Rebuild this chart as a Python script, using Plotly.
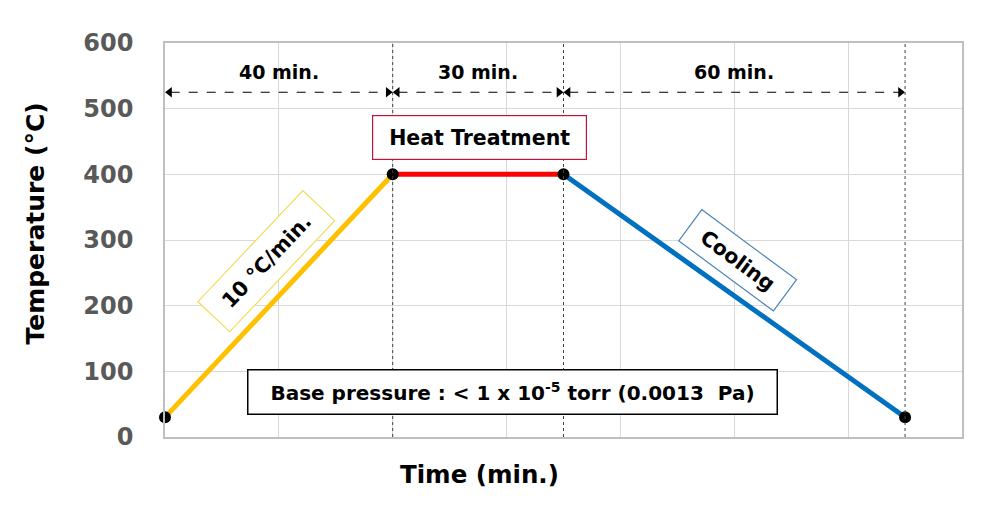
import plotly.graph_objects as go

# ---- data ----
time_pts = [0, 40, 70, 130]          # min
temp_pts = [30, 400, 400, 30]        # degC
seg_colors = ["#FFC000", "#FF0000", "#0070C0"]
interval_bounds = [0, 40, 70, 130]
interval_labels = ["40 min.", "30 min.", "60 min."]
y_ticks = [0, 100, 200, 300, 400, 500, 600]

FONT = "DejaVu Sans"

fig = go.Figure()

# segments
for i in range(3):
    fig.add_trace(go.Scatter(
        x=time_pts[i:i + 2], y=temp_pts[i:i + 2], mode="lines",
        line=dict(color=seg_colors[i], width=5), showlegend=False, hoverinfo="skip",
        cliponaxis=False))

# markers
fig.add_trace(go.Scatter(
    x=time_pts, y=temp_pts, mode="markers", cliponaxis=False,
    marker=dict(color="black", size=12), showlegend=False, hoverinfo="skip"))

# dotted vertical separators
for xb in interval_bounds[1:]:
    fig.add_shape(type="line", x0=xb, x1=xb, y0=0, y1=600, xref="x", yref="y",
                  line=dict(color="#404040", width=1, dash="dot"), layer="above")

# interval arrows and labels
arrow_y = 525
head_off = 0.8
for i, lab in enumerate(interval_labels):
    a, b = interval_bounds[i], interval_bounds[i + 1]
    fig.add_shape(type="line", x0=a + 1, x1=b - 1, y0=arrow_y, y1=arrow_y,
                  line=dict(color="black", width=1.2, dash="dash"))
    fig.add_trace(go.Scatter(
        x=[a + head_off, b - head_off], y=[arrow_y, arrow_y], mode="markers",
        marker=dict(symbol=["triangle-left", "triangle-right"], size=9, color="black"),
        showlegend=False, hoverinfo="skip", cliponaxis=False))
    fig.add_annotation(x=(a + b) / 2, y=556, text=lab, showarrow=False,
                       font=dict(family=FONT, size=19, color="black", weight="bold"))

# text boxes
BOX_FONT = dict(family=FONT, size=20.5, color="black", weight="bold")
fig.add_annotation(x=55.3, y=456, text="Heat Treatment", showarrow=False,
                   font=BOX_FONT, bordercolor="#C0143C", borderwidth=1.2, bgcolor="white",
                   width=211, height=41)
fig.add_annotation(x=61, y=68, text="Base pressure : &lt; 1 x 10<sup>-5</sup> torr (0.0013  Pa)",
                   showarrow=False, font=dict(family=FONT, size=20, color="black", weight="bold"),
                   bordercolor="black", borderwidth=1.5, bgcolor="white",
                   width=526, height=41)
fig.add_annotation(x=17.7, y=268, text="10 °C/min.", showarrow=False, textangle=-46.6,
                   font=BOX_FONT, bordercolor="#F2DC5D", borderwidth=1.2, bgcolor="white",
                   width=150, height=41)
fig.add_annotation(x=100.5, y=269, text="Cooling", showarrow=False, textangle=36.5,
                   font=BOX_FONT, bordercolor="#4A86B8", borderwidth=1.2, bgcolor="white",
                   width=115, height=36)

# axis titles
fig.add_annotation(xref="paper", yref="paper", x=0.395, y=-0.0964, yanchor="middle",
                   xanchor="center", text="Time (min.)", showarrow=False,
                   font=dict(family=FONT, size=24.5, color="black", weight="bold"))
fig.add_annotation(xref="paper", yref="paper", x=-0.163, y=0.542, xanchor="center",
                   yanchor="middle", text="Temperature (°C)", showarrow=False, textangle=-90,
                   font=dict(family=FONT, size=25, color="black", weight="bold"))

fig.update_xaxes(range=[0, 140], dtick=20, tick0=0, showticklabels=False,
                 showgrid=True, gridcolor="#D9D9D9", gridwidth=1,
                 showline=True, linecolor="#BFBFBF", linewidth=1.5, mirror=True,
                 zeroline=False, fixedrange=True)
fig.update_yaxes(range=[0, 600], tickvals=y_ticks, ticktext=[str(v) for v in y_ticks],
                 showgrid=True, gridcolor="#D9D9D9", gridwidth=1,
                 showline=True, linecolor="#BFBFBF", linewidth=1.5, mirror=True,
                 zeroline=False, ticklabelstandoff=25,
                 tickfont=dict(family=FONT, size=24, color="#595959", weight="bold"),
                 fixedrange=True)

fig.update_layout(width=985, height=509, margin=dict(l=165, r=23, t=43, b=72),
                  plot_bgcolor="white", paper_bgcolor="white", showlegend=False)

fig.write_html("out.html")
